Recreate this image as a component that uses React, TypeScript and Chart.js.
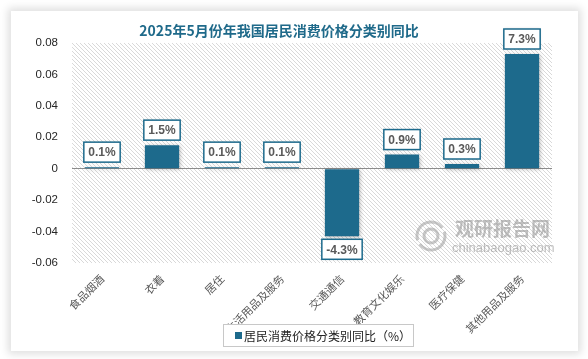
import React, { useEffect, useRef } from "react";
import { Chart, registerables } from "chart.js";

Chart.register(...registerables);

const title = "2025年5月份年我国居民消费价格分类别同比";
const seriesName = "居民消费价格分类别同比（%）";
const categories = ["食品烟酒", "衣着", "居住", "生活用品及服务", "交通通信", "教育文化娱乐", "医疗保健", "其他用品及服务"];
const values = [0.001, 0.015, 0.001, 0.001, -0.043, 0.009, 0.003, 0.073];
const valueLabels = ["0.1%", "1.5%", "0.1%", "0.1%", "-4.3%", "0.9%", "0.3%", "7.3%"];
const yTicks = [-0.06, -0.04, -0.02, 0, 0.02, 0.04, 0.06, 0.08];
const yTickLabels = ["-0.06", "-0.04", "-0.02", "0", "0.02", "0.04", "0.06", "0.08"];

const BAR = "#1d6a8c";
const CJK = '"Noto Sans CJK SC", "Noto Sans", sans-serif';
const LAT = '"Liberation Sans", Arial, sans-serif';

const hatchPlugin = {
  id: "hatch",
  beforeDraw(chart: any) {
    const { ctx, chartArea: a } = chart;
    ctx.save();
    ctx.beginPath();
    ctx.rect(a.left, a.top, a.right - a.left, a.bottom - a.top);
    ctx.clip();
    ctx.fillStyle = "#ffffff";
    ctx.fillRect(a.left, a.top, a.right - a.left, a.bottom - a.top);
    ctx.strokeStyle = "#d9d9d9";
    ctx.lineWidth = 1;
    const h = a.bottom - a.top;
    ctx.beginPath();
    for (let x = a.left - h; x < a.right + 4; x += 4) {
      ctx.moveTo(x, a.top);
      ctx.lineTo(x + h, a.bottom);
    }
    ctx.stroke();
    ctx.restore();
  },
};

const shadowPlugin = {
  id: "barShadow",
  beforeDatasetsDraw(chart: any) {
    const ctx = chart.ctx;
    ctx.save();
    ctx.shadowColor = "rgba(0,0,0,0.28)";
    ctx.shadowBlur = 4;
    ctx.shadowOffsetX = 1;
    ctx.shadowOffsetY = 1;
  },
  afterDatasetsDraw(chart: any) {
    chart.ctx.restore();
  },
};

const labelPlugin = {
  id: "valueBoxes",
  afterDatasetsDraw(chart: any) {
    const ctx = chart.ctx;
    const meta = chart.getDatasetMeta(0);
    ctx.save();
    ctx.font = `bold 12px ${LAT}`;
    meta.data.forEach((el: any, i: number) => {
      const txt = valueLabels[i];
      const w = ctx.measureText(txt).width + 9;
      const h = 20;
      const x = el.x - w / 2;
      let y;
      if (values[i] >= 0) {
        y = el.y - 5 - h;
      } else {
        y = el.y + 3;
      }
      ctx.shadowColor = "rgba(0,0,0,0.2)";
      ctx.shadowBlur = 3;
      ctx.fillStyle = "#ffffff";
      ctx.fillRect(x, y, w, h);
      ctx.shadowColor = "transparent";
      ctx.shadowBlur = 0;
      ctx.strokeStyle = BAR;
      ctx.lineWidth = 1.5;
      ctx.strokeRect(x, y, w, h);
      ctx.fillStyle = "#595959";
      ctx.textAlign = "center";
      ctx.textBaseline = "middle";
      ctx.fillText(txt, el.x, y + h / 2 + 1);
    });
    ctx.restore();
  },
};

const decorPlugin = {
  id: "decor",
  afterDraw(chart: any) {
    const ctx = chart.ctx;
    ctx.save();
    // watermark
    ctx.globalAlpha = 0.55;
    ctx.strokeStyle = "#9a9a9a";
    ctx.lineWidth = 3;
    ctx.beginPath();
    ctx.arc(431, 236, 14, Math.PI * 0.9, Math.PI * 1.8);
    ctx.stroke();
    ctx.beginPath();
    ctx.arc(431, 236, 14, Math.PI * -0.1, Math.PI * 0.8);
    ctx.stroke();
    ctx.beginPath();
    ctx.arc(431, 236, 7, 0, Math.PI * 2);
    ctx.stroke();
    ctx.fillStyle = "#8a8a8a";
    ctx.font = `bold 19px ${CJK}`;
    ctx.textAlign = "left";
    ctx.textBaseline = "alphabetic";
    ctx.fillText("观研报告网", 455, 236);
    ctx.font = `13px ${LAT}`;
    ctx.fillStyle = "#8a8a8a";
    ctx.fillText("chinabaogao.com", 452, 252);
    ctx.globalAlpha = 1;

    // title
    ctx.fillStyle = "#1f6a8a";
    ctx.font = `bold 14px ${CJK}`;
    ctx.textAlign = "center";
    ctx.textBaseline = "middle";
    ctx.fillText(title, 279, 31);

    // legend
    ctx.fillStyle = "#ffffff";
    ctx.fillRect(223, 324, 190, 22);
    ctx.strokeStyle = "#c8c8c8";
    ctx.lineWidth = 1;
    ctx.strokeRect(223.5, 324.5, 190, 22);
    ctx.fillStyle = BAR;
    ctx.fillRect(235, 332, 7, 7);
    ctx.fillStyle = "#222222";
    ctx.font = `12px ${CJK}`;
    ctx.textAlign = "left";
    ctx.textBaseline = "middle";
    ctx.fillText(seriesName, 244, 336);
    ctx.restore();
  },
};

export default function App() {
  const ref = useRef<HTMLCanvasElement | null>(null);

  useEffect(() => {
    document.body.style.margin = "0";
    const canvas = ref.current;
    if (!canvas) return;
    const chart = new Chart(canvas, {
      type: "bar",
      data: {
        labels: categories,
        datasets: [
          {
            label: seriesName,
            data: values,
            backgroundColor: BAR,
            borderWidth: 0,
            barPercentage: 0.57,
            categoryPercentage: 1,
          },
        ],
      },
      options: {
        responsive: false,
        animation: false,
        layout: { padding: { left: 0, top: 43, right: 36, bottom: 0 } },
        plugins: {
          legend: { display: false },
          title: { display: false },
          tooltip: { enabled: false },
        },
        scales: {
          x: {
            offset: true,
            grid: { display: false, drawTicks: false },
            border: { display: false },
            ticks: {
              autoSkip: false,
              maxRotation: 45,
              minRotation: 45,
              padding: 9,
              color: "#595959",
              font: { family: CJK, size: 11 },
            },
            afterFit(scale: any) {
              scale.height = 96;
            },
          },
          y: {
            min: -0.06,
            max: 0.08,
            afterBuildTicks(scale: any) {
              scale.ticks = yTicks.map((v) => ({ value: v }));
            },
            grid: {
              drawTicks: false,
              color: (c: any) => (c.tick && c.tick.value === 0 ? "#8c8c8c" : "rgba(0,0,0,0)"),
              lineWidth: 1,
            },
            border: { display: false },
            ticks: {
              padding: 14,
              color: "#262626",
              font: { family: LAT, size: 11.5 },
              callback: (_v: any, i: number) => yTickLabels[i],
            },
            afterFit(scale: any) {
              scale.width = 72;
            },
          },
        },
      },
      plugins: [hatchPlugin, shadowPlugin, labelPlugin, decorPlugin],
    });
    return () => chart.destroy();
  }, []);

  return (
    <div style={{ position: "relative", width: 588, height: 359, background: "#ffffff", overflow: "hidden" }}>
      <div
        style={{
          position: "absolute",
          left: 11,
          top: 11,
          width: 567,
          height: 340,
          background: "#ffffff",
          boxShadow: "0 0 8px 3px rgba(0,0,0,0.13)",
        }}
      />
      <canvas ref={ref} width={588} height={359} style={{ position: "absolute", left: 0, top: 0, width: 588, height: 359 }} />
    </div>
  );
}
